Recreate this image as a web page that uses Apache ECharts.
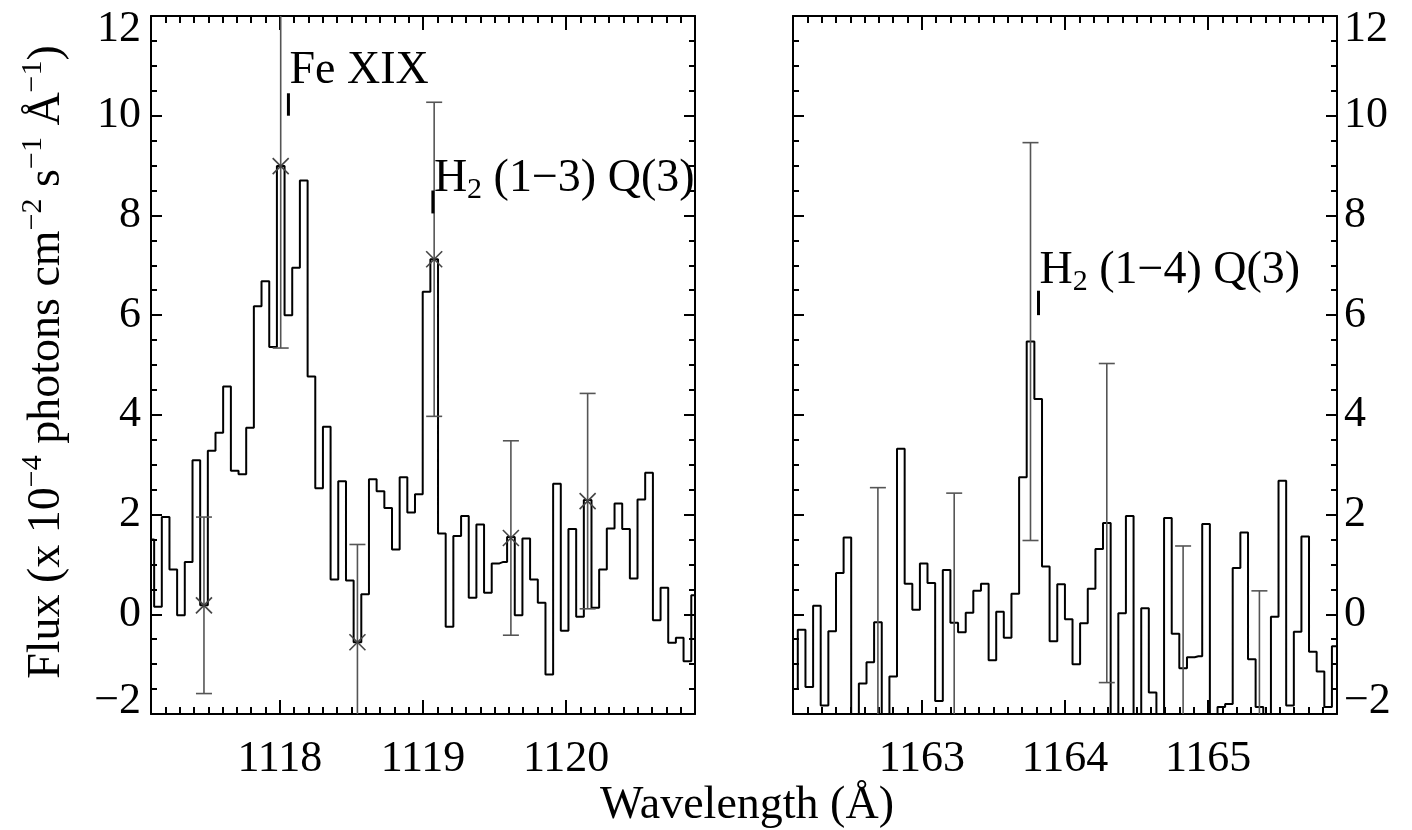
<!DOCTYPE html>
<html>
<head>
<meta charset="utf-8">
<script src="https://cdn.jsdelivr.net/npm/echarts@6/dist/echarts.min.js"></script>
<style>
  html, body { margin: 0; padding: 0; background: #fff; }
  #chart { width: 1412px; height: 830px; }
</style>
</head>
<body>
<div id="chart"></div>
<script>
// ---------------- data ----------------
const Y_MIN = -2, Y_MAX = 12, Y_STEP = 2;
const leftRange = [1117.1, 1120.9];
const rightRange = [1162.1, 1165.9];
const leftMajorTicks = [1118, 1119, 1120];
const rightMajorTicks = [1163, 1164, 1165];
const minorStep = 0.1;

const leftWave = [1117.095,1117.149,1117.202,1117.256,1117.309,1117.363,1117.417,1117.470,1117.524,1117.577,
  1117.631,1117.685,1117.738,1117.792,1117.845,1117.899,1117.953,1118.006,1118.060,1118.113,
  1118.167,1118.221,1118.274,1118.328,1118.381,1118.435,1118.489,1118.542,1118.596,1118.649,
  1118.703,1118.757,1118.810,1118.864,1118.917,1118.971,1119.025,1119.078,1119.132,1119.185,
  1119.239,1119.293,1119.346,1119.400,1119.453,1119.507,1119.561,1119.614,1119.668,1119.721,
  1119.775,1119.829,1119.882,1119.936,1119.989,1120.043,1120.097,1120.150,1120.204,1120.257,
  1120.311,1120.365,1120.418,1120.472,1120.525,1120.579,1120.633,1120.686,1120.740,1120.793,
  1120.847,1120.901];
const leftFlux = [1.50,0.15,1.95,0.90,-0.02,1.05,3.09,0.18,3.28,3.64,
  4.57,2.88,2.81,3.74,6.18,6.68,5.36,8.99,6.00,6.95,
  8.70,4.77,2.53,3.76,0.70,2.67,0.68,-0.56,0.40,2.71,
  2.47,2.13,1.30,2.75,2.04,2.41,6.47,7.12,1.62,-0.25,
  1.57,1.97,0.33,1.80,0.43,1.02,1.05,1.55,-0.02,1.52,
  0.70,0.23,-1.21,2.62,-0.33,1.71,-0.05,2.29,0.13,0.90,
  1.72,2.22,1.71,0.72,2.30,2.84,-0.12,0.53,-0.57,-0.47,
  -0.94,0.38];

const rightWave = [1162.107,1162.160,1162.214,1162.267,1162.320,1162.374,1162.427,1162.480,1162.533,1162.587,
  1162.640,1162.693,1162.747,1162.800,1162.853,1162.907,1162.960,1163.013,1163.066,1163.120,
  1163.173,1163.226,1163.280,1163.333,1163.386,1163.440,1163.493,1163.546,1163.599,1163.653,
  1163.706,1163.759,1163.813,1163.866,1163.919,1163.973,1164.026,1164.079,1164.132,1164.186,
  1164.239,1164.292,1164.346,1164.399,1164.452,1164.506,1164.559,1164.612,1164.665,1164.719,
  1164.772,1164.825,1164.879,1164.932,1164.985,1165.039,1165.092,1165.145,1165.198,1165.252,
  1165.305,1165.358,1165.412,1165.465,1165.518,1165.572,1165.625,1165.678,1165.731,1165.785,
  1165.838,1165.891,1165.944];
const rightFlux = [-1.50,-0.31,-1.46,0.17,-1.83,-0.34,0.83,1.54,-2.60,-1.39,
  -0.96,-0.16,-2.50,-1.25,3.32,0.61,0.09,1.02,0.63,-1.74,
  0.89,-0.17,-0.36,0.03,0.47,0.61,-0.92,0.05,-0.47,0.41,
  2.75,5.47,4.32,0.96,-0.54,0.60,-0.10,-1.00,-0.18,0.51,
  1.31,1.83,-2.50,0.02,1.97,-2.40,0.12,-1.57,-2.50,1.93,
  -0.39,-1.08,-0.86,-0.84,1.81,-2.50,-1.86,-1.80,0.93,1.64,
  -0.90,-1.86,-2.50,-0.05,2.68,-1.83,-0.35,1.56,-0.75,-1.15,
  -1.86,-0.64,2.00];

const leftErrWave = [1117.470,1118.006,1118.542,1119.078,1119.614,1120.150];
const leftErrVal  = [0.18,8.99,-0.56,7.12,1.53,2.27];
const leftErrSize = [1.77,3.65,1.96,3.15,1.95,2.16];

const rightErrWave = [1162.693,1163.226,1163.759,1164.292,1164.825,1165.358];
const rightErrVal  = [-0.16,-0.17,5.47,1.83,-1.08,-1.86];
const rightErrSize = [2.70,2.60,3.99,3.20,2.45,2.33];

const annWave  = [1118.06, 1119.069, 1163.815];
const annLow   = [10.0, 8.04, 6.0];
const annHigh  = [10.45, 8.50, 6.49];
const annBase  = [10.61, 8.45, 6.61];
const annPanel = [0, 0, 1];
const annLabels = ['{m|Fe XIX}', '{m|H}{s|2}{m| (1−3) Q(3)}', '{m|H}{s|2}{m| (1−4) Q(3)}'];

const xTitle = 'Wavelength (Å)';
const yTitle = '{m|Flux (x 10}{p|−4}{m| photons cm}{p|−2}{m| s}{p|−1}{m| Å}{p|−1}{m|)}';

// ---------------- styling helpers ----------------
const FONT = 'Liberation Serif';
const FS = 44;      // tick labels
const FT = 46;      // titles / annotations
const axisLineStyle = { color: '#000', width: 2 };

function xAxes(gridIndex, range, majors) {
  const base = { type: 'value', gridIndex, min: range[0], max: range[1], splitLine: { show: false } };
  const major = (pos, labels) => Object.assign({}, base, {
    position: pos,
    axisLine: { show: true, onZero: false, lineStyle: axisLineStyle },
    axisTick: { show: true, inside: true, length: 14, customValues: majors, lineStyle: axisLineStyle },
    axisLabel: { show: labels, customValues: majors, margin: 23, fontSize: FS, fontFamily: FONT, color: '#000',
      formatter: v => String(Math.round(v)) }
  });
  const minor = (pos) => Object.assign({}, base, {
    position: pos, interval: minorStep,
    axisLine: { show: false, onZero: false },
    axisTick: { show: true, inside: true, length: 7, lineStyle: axisLineStyle },
    axisLabel: { show: false }
  });
  return [major('bottom', true), minor('bottom'), major('top', false), minor('top')];
}

function yAxis(gridIndex, pos, labels) {
  return {
    type: 'value', gridIndex, position: pos, min: Y_MIN, max: Y_MAX, interval: Y_STEP,
    axisLine: { show: true, onZero: false, lineStyle: axisLineStyle },
    axisTick: { show: true, inside: true, length: 11, lineStyle: axisLineStyle },
    minorTick: { show: true, splitNumber: 4, length: 6, lineStyle: axisLineStyle },
    splitLine: { show: false }, minorSplitLine: { show: false },
    axisLabel: {
      show: labels, margin: pos === 'left' ? 10 : 7, fontSize: FS, fontFamily: FONT, color: '#000',
      lineHeight: 26,
      showMinLabel: true, showMaxLabel: true,
      verticalAlignMinLabel: 'bottom', verticalAlignMaxLabel: 'top',
      formatter: v => (v < 0 ? '−' + Math.abs(v) : String(v))
    }
  };
}

function errorRender(showCross) {
  return function (params, api) {
    const w = api.value(0), v = api.value(1), e = api.value(2);
    const hi = v + e, lo = v - e;
    const pTop = api.coord([w, Math.min(hi, Y_MAX)]);
    const pBot = api.coord([w, Math.max(lo, Y_MIN)]);
    const st = { stroke: '#555', lineWidth: 1.6 };
    const ch = [{ type: 'line', shape: { x1: pTop[0], y1: pTop[1], x2: pBot[0], y2: pBot[1] }, style: st }];
    const cap = 8;
    if (hi <= Y_MAX) ch.push({ type: 'line', shape: { x1: pTop[0] - cap, y1: pTop[1], x2: pTop[0] + cap, y2: pTop[1] }, style: st });
    if (lo >= Y_MIN) ch.push({ type: 'line', shape: { x1: pBot[0] - cap, y1: pBot[1], x2: pBot[0] + cap, y2: pBot[1] }, style: st });
    if (showCross) {
      const c = api.coord([w, v]);
      const s = 8, cs = { stroke: '#444', lineWidth: 1.6 };
      ch.push({ type: 'line', shape: { x1: c[0] - s, y1: c[1] - s, x2: c[0] + s, y2: c[1] + s }, style: cs });
      ch.push({ type: 'line', shape: { x1: c[0] - s, y1: c[1] + s, x2: c[0] + s, y2: c[1] - s }, style: cs });
    }
    return { type: 'group', children: ch };
  };
}

const richAnn = {
  m: { fontSize: FT, fontFamily: FONT, lineHeight: 52, fill: '#000' },
  s: { fontSize: 30, fontFamily: FONT, verticalAlign: 'bottom', fill: '#000' }
};

// group annotation data per panel
const annData = [[], []];
const annText = [[], []];
annWave.forEach((w, i) => {
  annData[annPanel[i]].push([w, annLow[i], annHigh[i], annBase[i]]);
  annText[annPanel[i]].push(annLabels[i]);
});

function annRender(panel) {
  return function (params, api) {
    const i = params.dataIndex;
    const w = api.value(0);
    const p1 = api.coord([w, api.value(1)]);
    const p2 = api.coord([w, api.value(2)]);
    const pb = api.coord([w, api.value(3)]);
    return {
      type: 'group',
      children: [
        { type: 'line', shape: { x1: p1[0], y1: p1[1], x2: p2[0], y2: p2[1] }, style: { stroke: '#000', lineWidth: 3 } },
        { type: 'text', x: p1[0] + 1, y: pb[1] - 14,
          style: { text: annText[panel][i], rich: richAnn, align: 'left', verticalAlign: 'middle', fill: '#000' } }
      ]
    };
  };
}

const series = [
  { type: 'line', xAxisIndex: 0, yAxisIndex: 0, data: leftWave.map((w, i) => [w, leftFlux[i]]),
    step: 'middle', symbol: 'none', showSymbol: false, clip: true, silent: true,
    lineStyle: { color: '#000', width: 2 }, z: 2 },
  { type: 'line', xAxisIndex: 4, yAxisIndex: 2, data: rightWave.map((w, i) => [w, rightFlux[i]]),
    step: 'middle', symbol: 'none', showSymbol: false, clip: true, silent: true,
    lineStyle: { color: '#000', width: 2 }, z: 2 },
  { type: 'custom', xAxisIndex: 0, yAxisIndex: 0, clip: true, silent: true, z: 3,
    data: leftErrWave.map((w, i) => [w, leftErrVal[i], leftErrSize[i]]), encode: { x: 0, y: 1 },
    renderItem: errorRender(true) },
  { type: 'custom', xAxisIndex: 4, yAxisIndex: 2, clip: true, silent: true, z: 3,
    data: rightErrWave.map((w, i) => [w, rightErrVal[i], rightErrSize[i]]), encode: { x: 0, y: 1 },
    renderItem: errorRender(false) },
  { type: 'custom', xAxisIndex: 0, yAxisIndex: 0, clip: false, silent: true, z: 4,
    data: annData[0], encode: { x: 0, y: 1 }, renderItem: annRender(0) },
  { type: 'custom', xAxisIndex: 4, yAxisIndex: 2, clip: false, silent: true, z: 4,
    data: annData[1], encode: { x: 0, y: 1 }, renderItem: annRender(1) }
];

const option = {
  backgroundColor: '#fff',
  animation: false,
  grid: [
    { left: 151, top: 16, width: 544, height: 698, containLabel: false, outerBoundsMode: 'none' },
    { left: 793, top: 16, width: 544, height: 698, containLabel: false, outerBoundsMode: 'none' }
  ],
  xAxis: [].concat(xAxes(0, leftRange, leftMajorTicks), xAxes(1, rightRange, rightMajorTicks)),
  yAxis: [yAxis(0, 'left', true), yAxis(0, 'right', false), yAxis(1, 'left', false), yAxis(1, 'right', true)],
  series: series,
  graphic: [
    { type: 'text', x: 747, y: 806, silent: true,
      style: { text: xTitle, fontSize: FT, fontFamily: FONT, fill: '#000', align: 'center', verticalAlign: 'middle' } },
    { type: 'text', x: 47, y: 362, rotation: Math.PI / 2, silent: true,
      style: { text: yTitle, align: 'center', verticalAlign: 'middle', fill: '#000',
        rich: {
          m: { fontSize: FT, fontFamily: FONT, lineHeight: 58, fill: '#000' },
          p: { fontSize: 30, fontFamily: FONT, verticalAlign: 'top', fill: '#000' }
        } } }
  ]
};

const chart = echarts.init(document.getElementById('chart'), null, { renderer: 'canvas' });
chart.setOption(option);
</script>
</body>
</html>
